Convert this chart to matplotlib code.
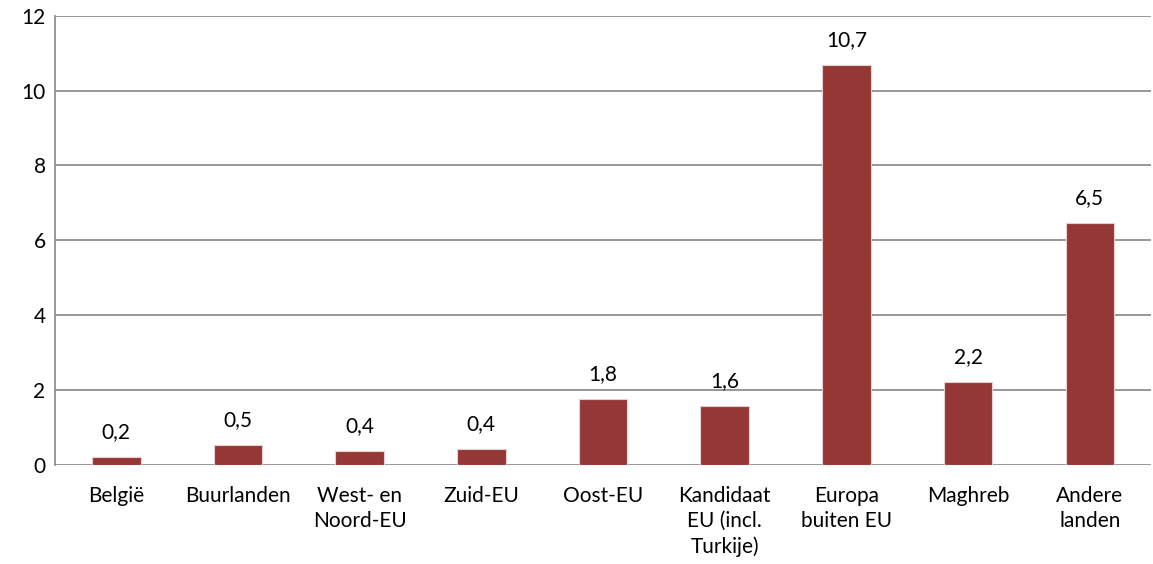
import numpy as np
import matplotlib.pyplot as plt

plt.rcParams['font.family'] = ['Lato', 'DejaVu Sans']

categories = ['België', 'Buurlanden', 'West- en\nNoord-EU', 'Zuid-EU', 'Oost-EU',
              'Kandidaat\nEU (incl.\nTurkije)', 'Europa\nbuiten EU', 'Maghreb', 'Andere\nlanden']
values = [0.21, 0.53, 0.37, 0.43, 1.76, 1.58, 10.68, 2.22, 6.47]
labels = ['0,2', '0,5', '0,4', '0,4', '1,8', '1,6', '10,7', '2,2', '6,5']

fig = plt.figure(figsize=(11.53, 5.64), dpi=100)
ax = fig.add_axes([0.048, 0.176, 0.950, 0.796])

x = np.arange(len(categories))
ax.bar(x, values, width=0.4, color='#953735', zorder=3,
       edgecolor='#e8d0d0', linewidth=0.8)

for xi, v, lab in zip(x, values, labels):
    ax.text(xi, v + 0.4, lab, ha='center', va='bottom', fontsize=15)

ax.set_xlim(-0.5, len(categories) - 0.5)
ax.set_ylim(0, 12)
ax.set_yticks(np.arange(0, 13, 2))
ax.set_xticks(x)
ax.set_xticklabels(categories, fontsize=15, linespacing=1.32, va='top')
ax.tick_params(axis='y', labelsize=15, length=0, pad=7)
ax.tick_params(axis='x', length=0, pad=15)

ax.grid(axis='y', color='#868686', linewidth=1.2, zorder=0)
for s in ['top', 'right', 'bottom']:
    ax.spines[s].set_visible(False)
ax.spines['left'].set_color('#868686')
ax.spines['left'].set_linewidth(1.2)

fig.savefig('out.png', dpi=100)
